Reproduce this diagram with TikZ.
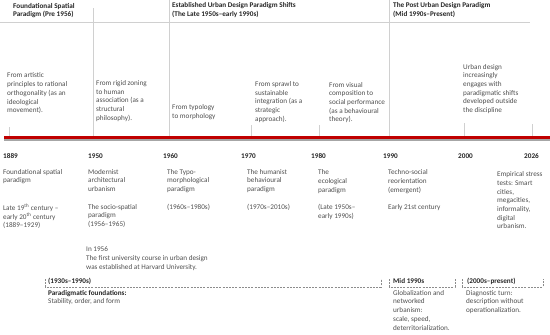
\documentclass[tikz,border=0pt]{standalone}
\usepackage{fontspec}
\setmainfont{Carlito}
\definecolor{bodyc}{HTML}{505050}
\definecolor{boldc}{HTML}{262626}
\definecolor{gridc}{HTML}{D0D0D0}
\definecolor{redc}{HTML}{C00000}
\definecolor{shadec}{HTML}{A6A6A6}
\definecolor{dashc}{HTML}{8C8C8C}
\begin{document}
\begin{tikzpicture}[x=1pt,y=-1pt,
  txt/.style={anchor=north west, inner sep=0pt, align=left, font=\fontsize{7.2}{8.7}\selectfont, text=bodyc},
  btxt/.style={txt, font=\fontsize{7.2}{8.7}\selectfont\bfseries, text=boldc},
  yr/.style={anchor=west, inner sep=0pt, font=\fontsize{7.2}{8.7}\selectfont\bfseries, text=boldc},
  gridline/.style={draw=gridc, line width=0.6pt},
  bracket/.style={draw=dashc, dash pattern=on 2pt off 1.2pt, line width=0.5pt},
]
\path[use as bounding box, fill=white] (0,0) rectangle (550,335);

% grid lines
\coordinate (hl-a) at (0,22); \coordinate (hl-b) at (530,22);
\draw[gridline] (hl-a) -- (hl-b);
\coordinate (v1a) at (93,8);    \coordinate (v1b) at (93,137);
\coordinate (v2a) at (169,0);   \coordinate (v2b) at (169,137);
\coordinate (v3a) at (389.5,0); \coordinate (v3b) at (389.5,137);
\draw[gridline] (v1a) -- (v1b);
\draw[gridline] (v2a) -- (v2b);
\draw[gridline] (v3a) -- (v3b);
\coordinate (k1a) at (9,127);   \coordinate (k1b) at (9,137);
\coordinate (k2a) at (251,125); \coordinate (k2b) at (251,137);
\coordinate (k3a) at (319,125); \coordinate (k3b) at (319,137);
\coordinate (k4a) at (464,123); \coordinate (k4b) at (464,137);
\coordinate (k5a) at (532,124); \coordinate (k5b) at (532,137);
\draw[gridline] (k1a) -- (k1b);
\draw[gridline] (k2a) -- (k2b);
\draw[gridline] (k3a) -- (k3b);
\draw[gridline] (k4a) -- (k4b);
\draw[gridline] (k5a) -- (k5b);

% timeline
\coordinate (sh-a) at (4,140); \coordinate (sh-b) at (550,140);
\coordinate (tl-a) at (4,137.5); \coordinate (tl-b) at (550,137.5);
\draw[draw=shadec, line width=2.2pt] (sh-a) -- (sh-b);
\draw[draw=redc, line width=2.6pt] (tl-a) -- (tl-b);

% headers
\node[btxt] (h1) at (13,2.8) {Foundational Spatial\\Paradigm (Pre 1956)};
\node[btxt] (h2) at (172,2.6) {Established Urban Design Paradigm Shifts\\(The Late 1950s–early 1990s)};
\node[btxt] (h3) at (393,2.5) {The Post Urban Design Paradigm\\(Mid 1990s–Present)};

% upper texts
\node[txt] (b1) at (7,72.8) {From artistic\\principles to rational\\orthogonality (as an\\ideological\\movement).};
\node[txt] (b2) at (96,80.1) {From rigid zoning\\to human\\association (as a\\structural\\philosophy).};
\node[txt] (b3) at (172,104.6) {From typology\\to morphology};
\node[txt] (b4) at (255,81.3) {From sprawl to\\sustainable\\integration (as a\\strategic\\approach).};
\node[txt] (b5) at (329,81.8) {From visual\\composition to\\social performance\\(as a behavioural\\theory).};
\node[txt] (b6) at (463,63.8) {Urban design\\increasingly\\engages with\\paradigmatic shifts\\developed outside\\the discipline};

% years
\node[yr] (y1889) at (3,156) {1889};
\node[yr] (y1950) at (88,156) {1950};
\node[yr] (y1960) at (163,156) {1960};
\node[yr] (y1970) at (241,156) {1970};
\node[yr] (y1980) at (311,156) {1980};
\node[yr] (y1990) at (383,156) {1990};
\node[yr] (y2000) at (458,156) {2000};
\node[yr] (y2026) at (524,156) {2026};

% lower texts
\node[txt] (c1a) at (3,168.8) {Foundational spatial\\paradigm};
\node[txt] (c1b) at (3,203.8) {Late 19\textsuperscript{th} century –\\early 20\textsuperscript{th} century\\(1889–1929)};
\node[txt] (c2a) at (88,168.8) {Modernist\\architectural\\urbanism};
\node[txt] (c2b) at (88,203.8) {The socio-spatial\\paradigm\\(1956–1965)};
\node[txt] (c3a) at (167,168.8) {The Typo-\\morphological\\paradigm};
\node[txt] (c3b) at (167,203.8) {(1960s–1980s)};
\node[txt] (c4a) at (247,168.8) {The humanist\\behavioural\\paradigm};
\node[txt] (c4b) at (247,203.8) {(1970s–2010s)};
\node[txt] (c5a) at (318,169.5) {The\\ecological\\paradigm};
\node[txt] (c5b) at (318,204.5) {(Late 1950s–\\early 1990s)};
\node[txt] (c6a) at (388,169.5) {Techno-social\\reorientation\\(emergent)};
\node[txt] (c6b) at (388,204.5) {Early 21st century};
\node[txt] (c7) at (497,171.5) {Empirical stress\\tests: Smart\\cities,\\megacities,\\informality,\\digital\\urbanism.};

\node[txt, font=\fontsize{7.2}{9.2}\selectfont] (harv) at (86,246) {In 1956\\The first university course in urban design\\was established at Harvard University.};

% brackets
\coordinate (p1a) at (45,279); \coordinate (p1b) at (45,287);
\coordinate (p1c) at (381,287); \coordinate (p1d) at (381,279);
\draw[bracket] (p1a) -- (p1b) -- (p1c) -- (p1d);
\node[btxt] (br1) at (48,277.8) {(1930s–1990s)};
\node[txt] (pf) at (48,289.8) {\textbf{\color{boldc}Paradigmatic foundations:}\\Stability, order, and form};

\coordinate (p2a) at (389,279); \coordinate (p2b) at (389,287);
\coordinate (p2c) at (455,287); \coordinate (p2d) at (455,279);
\draw[bracket] (p2a) -- (p2b) -- (p2c) -- (p2d);
\node[btxt] (br2) at (393,278.6) {Mid 1990s};
\node[txt] (glob) at (393,290) {Globalization and\\networked\\urbanism:\\scale, speed,\\deterritorialization.};

\coordinate (p3a) at (462,279); \coordinate (p3b) at (462,287);
\coordinate (p3c) at (543,287); \coordinate (p3d) at (543,279);
\draw[bracket] (p3a) -- (p3b) -- (p3c) -- (p3d);
\node[btxt] (br3) at (467,277.8) {(2000s–present)};
\node[txt] (diag) at (466,290) {Diagnostic turn:\\description without\\operationalization.};
\end{tikzpicture}
\end{document}
